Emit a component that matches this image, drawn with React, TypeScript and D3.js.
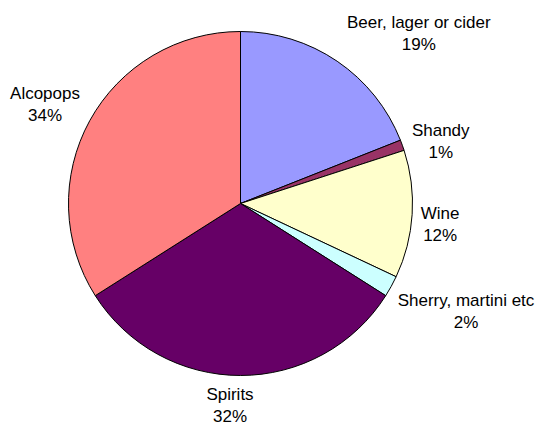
import React from "react";
import * as d3 from "d3";

const categories = ["Beer, lager or cider", "Shandy", "Wine", "Sherry, martini etc", "Spirits", "Alcopops"];
const values = [19, 1, 12, 2, 32, 34];
const colors = ["#9999FF", "#993366", "#FFFFCC", "#CCFFFF", "#660066", "#FF8080"];
// label nudges (layout only) relative to the slice's outer anchor point
const labelNudge: [number, number][] = [
  [76, -20],
  [29, -1],
  [18, 9],
  [66, 20],
  [-10.5, 19.5],
  [-36, -12],
];

const W = 539;
const H = 424;
const cx = 240.5;
const cy = 203.5;
const R = 172;

export default function App() {
  const data = categories.map((c, i) => ({ cat: c, value: values[i], color: colors[i], i }));
  const pie = d3.pie<any>().value((d) => d.value).sort(null);
  const arcs = pie(data);
  const arc = d3.arc<any>().innerRadius(0).outerRadius(R);
  const total = d3.sum(values);
  return (
    <svg width={W} height={H} style={{ position: "absolute", left: 0, top: 0, background: "#fff" }}>
      <g transform={`translate(${cx},${cy})`}>
        {arcs.map((a) => (
          <path key={a.data.cat} d={arc(a) as string} fill={a.data.color} stroke="#000" strokeWidth={1} strokeLinejoin="round" />
        ))}
        {arcs.map((a) => {
          const mid = (a.startAngle + a.endAngle) / 2;
          const x = Math.sin(mid) * (R + 10) + labelNudge[a.data.i][0];
          const y = -Math.cos(mid) * (R + 10) + labelNudge[a.data.i][1];
          const pct = Math.round((a.data.value / total) * 100) + "%";
          return (
            <text key={"l" + a.data.cat} x={x} y={y} textAnchor="middle" fontFamily="'Liberation Sans', Arial, sans-serif" fontSize={17} fill="#000">
              <tspan x={x} dy={-10.75 + 6}>{a.data.cat}</tspan>
              <tspan x={x} dy={21.5}>{pct}</tspan>
            </text>
          );
        })}
      </g>
    </svg>
  );
}
